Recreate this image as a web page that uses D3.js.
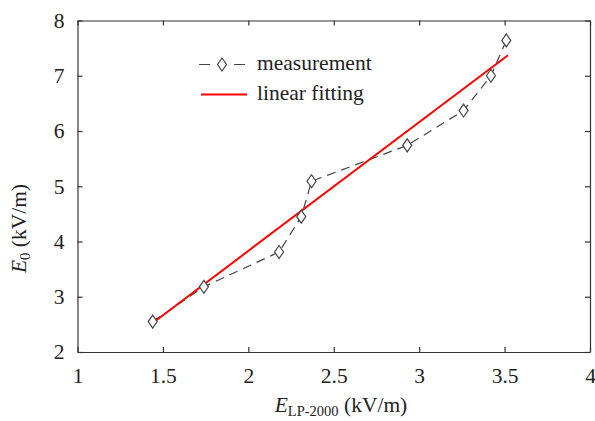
<!DOCTYPE html>
<html>
<head>
<meta charset="utf-8">
<script src="https://cdn.jsdelivr.net/npm/d3@7"></script>
<style>
  body { margin: 0; background: #fff; }
</style>
</head>
<body>
<div id="chart"></div>
<script>
// datos
xMedida = [1.44, 1.74, 2.18, 2.31, 2.37, 2.93, 3.26, 3.42, 3.51]
yMedida = [2.55, 3.18, 3.81, 4.45, 5.09, 5.74, 6.37, 7.00, 7.64]
// ajuste lineal
pendiente = 2.33
intercepto = -0.83
xAjuste = [1.44, 3.52]

xTicks = [1, 1.5, 2, 2.5, 3, 3.5, 4]
yTicks = [2, 3, 4, 5, 6, 7, 8]
leyenda = ['measurement', 'linear fitting']

fuente = "'Liberation Serif', 'Tinos', 'DejaVu Serif', serif"
tam = 21.5

anchototal = 595
altototal = 421
margin = { top: 20.5, left: 77.5, right: 5, bottom: 69 }
ancho = anchototal - margin.left - margin.right
alto = altototal - margin.top - margin.bottom

svg = d3.select('#chart')
  .append('svg')
  .attr('width', anchototal)
  .attr('height', altototal)
  .style('font-family', fuente)

g = svg.append('g')
  .attr('transform', `translate(${margin.left}, ${margin.top})`)

x = d3.scaleLinear().domain([1, 4]).range([0, ancho])
y = d3.scaleLinear().domain([2, 8]).range([alto, 0])

// ejes con ticks hacia adentro
xAxis = g.append('g')
  .attr('transform', `translate(0, ${alto})`)
  .call(d3.axisBottom(x).tickValues(xTicks).tickFormat(d => d.toString())
    .tickSizeInner(-5).tickSizeOuter(0).tickPadding(16))
yAxis = g.append('g')
  .call(d3.axisLeft(y).tickValues(yTicks).tickFormat(d => d.toString())
    .tickSizeInner(-5).tickSizeOuter(0).tickPadding(13))
topAxis = g.append('g')
  .call(d3.axisTop(x).tickValues(xTicks).tickFormat('')
    .tickSizeInner(-5).tickSizeOuter(0))
rightAxis = g.append('g')
  .attr('transform', `translate(${ancho}, 0)`)
  .call(d3.axisRight(y).tickValues(yTicks).tickFormat('')
    .tickSizeInner(-5).tickSizeOuter(0))

g.selectAll('.domain, .tick line').attr('stroke', '#333').attr('stroke-width', 1.2)
g.selectAll('.tick text')
  .style('font-family', fuente)
  .attr('font-size', tam)
  .attr('fill', '#222')

// linea de medidas
puntos = xMedida.map((d, i) => [d, yMedida[i]])
generador = d3.line().x(d => x(d[0])).y(d => y(d[1]))

g.append('path')
  .attr('d', generador(puntos))
  .attr('fill', 'none')
  .attr('stroke', '#444')
  .attr('stroke-width', 1.2)
  .attr('stroke-dasharray', '9,6')

// ajuste
ajuste = xAjuste.map(d => [d, pendiente * d + intercepto])
g.append('path')
  .attr('d', generador(ajuste))
  .attr('fill', 'none')
  .attr('stroke', '#f00')
  .attr('stroke-width', 2)

// rombos
rombo = 'M0,-6.5L4.5,0L0,6.5L-4.5,0Z'
g.selectAll('.rombo')
  .data(puntos)
  .enter()
  .append('path')
  .attr('class', 'rombo')
  .attr('d', rombo)
  .attr('transform', d => `translate(${x(d[0])}, ${y(d[1])})`)
  .attr('fill', '#fff')
  .attr('stroke', '#444')
  .attr('stroke-width', 1.2)

// leyenda
ley = svg.append('g')
ley.append('line')
  .attr('x1', 199).attr('x2', 245).attr('y1', 64.5).attr('y2', 64.5)
  .attr('stroke', '#444').attr('stroke-width', 1.2)
  .attr('stroke-dasharray', '11,24')
ley.append('path')
  .attr('d', rombo)
  .attr('transform', 'translate(222, 64.5)')
  .attr('fill', '#fff').attr('stroke', '#444').attr('stroke-width', 1.2)
ley.append('line')
  .attr('x1', 201).attr('x2', 247).attr('y1', 94.5).attr('y2', 94.5)
  .attr('stroke', '#f00').attr('stroke-width', 2)
ley.selectAll('.ltxt')
  .data(leyenda)
  .enter()
  .append('text')
  .attr('class', 'ltxt')
  .attr('x', 257)
  .attr('y', (d, i) => 69.5 + i * 30)
  .attr('font-size', tam)
  .attr('fill', '#222')
  .text(d => d)

// titulos de ejes
tx = svg.append('text')
  .attr('x', 341)
  .attr('y', 412)
  .attr('text-anchor', 'middle')
  .attr('font-size', tam)
  .attr('fill', '#222')
tx.append('tspan').attr('font-style', 'italic').text('E')
tx.append('tspan').attr('font-size', 14.5).attr('dy', 4).text('LP-2000')
tx.append('tspan').attr('dy', -4).text(' (kV/m)')

ty = svg.append('text')
  .attr('transform', 'translate(26, 228.5) rotate(-90)')
  .attr('text-anchor', 'middle')
  .attr('font-size', tam)
  .attr('fill', '#222')
ty.append('tspan').attr('font-style', 'italic').text('E')
ty.append('tspan').attr('font-size', 14.5).attr('dy', 4).text('0')
ty.append('tspan').attr('dy', -4).text(' (kV/m)')
</script>
</body>
</html>
